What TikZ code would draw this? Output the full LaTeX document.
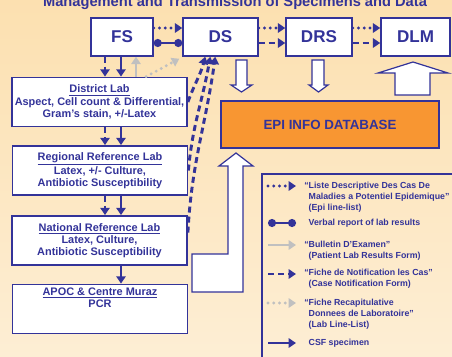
\documentclass[tikz,border=0pt]{standalone}
\usepackage{fontspec}
\setmainfont{Liberation Sans}
\usepackage{tikz}
\usetikzlibrary{calc,positioning,arrows.meta}
\definecolor{navy}{RGB}{51,51,153}
\definecolor{epiorange}{RGB}{248,150,50}
\definecolor{peachtop}{RGB}{252,224,176}
\definecolor{peachbot}{RGB}{253,238,212}
\definecolor{paleg}{RGB}{192,192,192}

\begin{document}
\begin{tikzpicture}[x=0.75pt,y=-0.75pt]
\tikzstyle{site}=[draw=navy, line width=1.1pt, fill=white, text=navy, font=\fontsize{12.8}{14}\selectfont\bfseries, minimum height=28.5pt, inner sep=0pt]
\tikzstyle{lab}=[draw=navy, line width=1.1pt, fill=white, text=navy, font=\fontsize{8.2}{9.2}\selectfont\bfseries, align=center, minimum width=131.5pt, minimum height=37pt, inner sep=0pt]
\tikzstyle{labtxt}=[text=navy, font=\fontsize{8.2}{9.2}\selectfont\bfseries, align=center, inner sep=0pt]
\tikzstyle{keytext}=[text=navy, font=\fontsize{6.6}{8.25}\selectfont\bfseries, align=left, anchor=west, inner sep=0pt]
\tikzstyle{spec}=[navy, line width=2.2pt, -{Triangle[length=5.5pt,width=7pt]}]
\tikzstyle{casef}=[navy, line width=2.2pt, dash pattern=on 4.5pt off 3pt, -{Triangle[length=5.5pt,width=7pt]}]
\tikzstyle{epil}=[navy, line width=2.4pt, line cap=round, dash pattern=on 0pt off 4.3pt, -{Triangle[length=5.5pt,width=7pt]}]
\tikzstyle{verbal}=[navy, line width=1.8pt, {Circle[length=6pt]}-{Circle[length=6pt]}]
\tikzstyle{bulletin}=[paleg, line width=2.2pt, -{Triangle[length=5.5pt,width=7pt]}]
\tikzstyle{recap}=[paleg, line width=2.4pt, line cap=round, dash pattern=on 0pt off 4.3pt, -{Triangle[length=5.5pt,width=7pt]}]
\tikzstyle{hollow}=[draw=navy, fill=white, line width=0.9pt, line join=miter]

% background and page
\fill[top color=peachtop, bottom color=peachbot] (0,0) rectangle (452,356);
\useasboundingbox (0,0) rectangle (452,356);
\node[text=navy, font=\fontsize{11}{13}\selectfont\bfseries, anchor=base] (ttl) at (235,6.5) {Management and Transmission of Specimens and Data};

% sites
\node[site, minimum width=46.5pt] (fs) at (122,37) {FS};
\node[site, minimum width=56.25pt] (ds) at (220.5,37) {DS};
\node[site, minimum width=49.5pt] (drs) at (319,37) {DRS};
\node[site, minimum width=51.75pt] (dlm) at (415.5,37) {DLM};

% labs
\node[lab] (dl) at (99.5,102) {\underline{District Lab}\\Aspect, Cell count \& Differential,\\Gram’s stain, +/-Latex};
\node[lab] (rl) at (100,170.5) {\underline{Regional Reference Lab}\\Latex, +/- Culture,\\Antibiotic Susceptibility};
\node[lab] (nl) at (99.5,240.5) {\underline{National Reference Lab}\\Latex, Culture,\\Antibiotic Susceptibility};
\node[lab] (apoc) at (100,309) {};
\node[labtxt, anchor=north] (apoctxt) at ([shift={(0,4)}]apoc.north) {\underline{APOC \& Centre Muraz}\\PCR};

\node[draw=navy, line width=1.1pt, fill=epiorange, text=navy, font=\fontsize{10}{12}\selectfont\bfseries, minimum width=163.5pt, minimum height=35.25pt] (epi) at (330,124.5) {EPI INFO DATABASE};

% top row
\draw[epil] ([shift={(0,-9)}]fs.east) -- ([shift={(0,-9)}]ds.west);
\draw[verbal] ([shift={(0,6)}]fs.east) -- ([shift={(0,6)}]ds.west);
\foreach \a/\b in {ds/drs, drs/dlm} {
  \draw[epil] ([shift={(0,-9)}]\a.east) -- ([shift={(0,-9)}]\b.west);
  \draw[casef] ([shift={(0,6)}]\a.east) -- ([shift={(0,6)}]\b.west);
}

% down the labs
\coordinate (xd) at (105,0);
\coordinate (xs) at (121,0);
\coordinate (xg) at (136,0);
\foreach \a/\b in {fs/dl, dl/rl, rl/nl} {
  \draw[casef] (\a.south -| xd) -- (\b.north -| xd);
  \draw[spec] (\a.south -| xs) -- (\b.north -| xs);
}
\draw[spec] (nl.south -| xs) -- (apoc.north -| xs);
\draw[bulletin] (dl.north -| xg) -- (fs.south -| xg);
\draw[recap] ([shift={(135,0)}]dl.north west) -- ([shift={(-3,2)}]ds.south west);

% notification forms back to DS
\draw[casef] (dl.east) to[out=70,in=-105] ([shift={(23,0)}]ds.south west);
\draw[casef] (rl.east) to[out=85,in=-100] ([shift={(28,0)}]ds.south west);
\draw[casef] ([shift={(0,-8)}]nl.east) to[out=87,in=-98] ([shift={(33,0)}]ds.south west);

% data into the database
\draw[hollow] (236,60) -- (236,85) -- (231,85) -- (241.5,92) -- (252,85) -- (247,85) -- (247,60) -- cycle;
\draw[hollow] (312,60) -- (312,85) -- (309,85) -- (318.5,92) -- (328,85) -- (324,85) -- (324,60) -- cycle;
\draw[hollow] (395,95) -- (395,73) -- (378,73) -- (413,62) -- (448,73) -- (430,73) -- (430,95) -- cycle;
\draw[hollow] (228,254) -- (228,166) -- (219,166) -- (236,153) -- (253,166) -- (243,166) -- (243,292) -- (192,292) -- (192,254) -- cycle;

% key
\draw[navy, line width=1.5pt] (262,174) rectangle (458,362);
\foreach \i/\y/\s in {1/186/epil, 2/223/verbal, 3/245/bulletin, 4/274/casef, 5/303/recap, 6/343/spec} {
  \coordinate (ka\i) at (268,\y);
  \coordinate (kb\i) at (296,\y);
  \draw[\s] (ka\i) -- (kb\i);
}
\node[keytext] (k1) at (304,197) {“Liste Descriptive Des Cas De\\\phantom{“}Maladies a Potentiel Epidemique”\\\phantom{“}(Epi line-list)};
\node[keytext] (k2) at (304,223) {\phantom{“}Verbal report of lab results};
\node[keytext] (k3) at (304,250.5) {“Bulletin D'Examen”\\\phantom{“}(Patient Lab Results Form)};
\node[keytext] (k4) at (304,279) {“Fiche de Notification les Cas”\\\phantom{“}(Case Notification Form)};
\node[keytext] (k5) at (304,314) {“Fiche Recapitulative\\\phantom{“}Donnees de Laboratoire”\\\phantom{“}(Lab Line-List)};
\node[keytext] (k6) at (304,343) {\phantom{“}CSF specimen};
\end{tikzpicture}
\end{document}
